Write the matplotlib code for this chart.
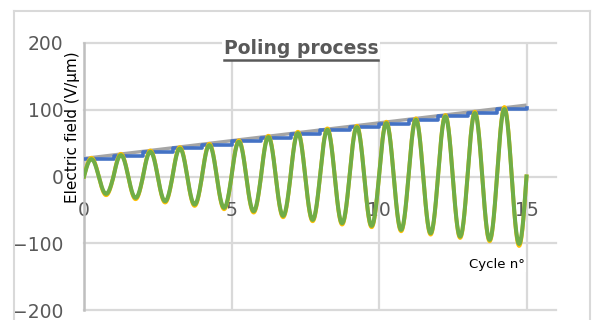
import numpy as np
import matplotlib
matplotlib.use("Agg")
import matplotlib.pyplot as plt
from matplotlib.lines import Line2D

# ---- data ----
cycles = list(range(1, 16))
# peak amplitude of the applied field in each cycle (V/µm)
amplitude = [26, 32, 37, 42, 47, 52, 59, 65, 70, 74, 80, 85, 90, 95, 101]
# orange/yellow series: slightly larger amplitude, visible at the tips
amplitude_yellow = [28, 34, 39, 44, 49, 54, 61, 67, 72, 76, 82, 87, 92, 97, 104]
# stepped level per cycle (blue)
step_level = [26, 31, 37, 42, 47, 53, 58, 63, 69, 74, 79, 85, 90, 95, 101]
# linear ramp (gray) end points
ramp_x = [0, 15]
ramp_y = [27, 107]
xticks = [0, 5, 10, 15]
yticks = [-200, -100, 0, 100, 200]

title = "Poling process"
ylabel = "Electric field (V/µm)"
xlabel = "Cycle n°"

W, H = 595, 320
fig = plt.figure(figsize=(W / 100, H / 100), dpi=100)
fig.patch.set_facecolor("white")

# outer chart-area border
fc = "#D9D9D9"
fig.add_artist(Line2D([14 / W, 14 / W], [0, 1 - 11 / H], color=fc, lw=1.5, transform=fig.transFigure))
fig.add_artist(Line2D([14 / W, 590 / W], [1 - 11 / H, 1 - 11 / H], color=fc, lw=1.5, transform=fig.transFigure))
fig.add_artist(Line2D([590 / W, 590 / W], [0, 1 - 11 / H], color=fc, lw=1.5, transform=fig.transFigure))

left, right, top, bottom = 84, 556, 43, 310
ax = fig.add_axes([left / W, 1 - bottom / H, (right - left) / W, (bottom - top) / H])
ax.set_xlim(0, 16)
ax.set_ylim(-200, 200)

# gridlines
for yv in yticks:
    if yv != 0:
        ax.axhline(yv, color=fc, lw=1.6, zorder=0, clip_on=False)
ax.set_xticks(xticks)
ax.set_yticks(yticks)
ax.grid(axis="x", color=fc, lw=1.6, zorder=0)

for s in ["top", "right"]:
    ax.spines[s].set_visible(False)
ax.spines["bottom"].set_position(("data", 0))
ax.spines["bottom"].set_color(fc)
ax.spines["bottom"].set_linewidth(1.6)
ax.spines["left"].set_color("#BFBFBF")
ax.spines["left"].set_linewidth(1.8)

ax.tick_params(axis="both", length=0, labelsize=13.5, labelcolor="#595959")
ax.tick_params(axis="y", pad=15)
ax.tick_params(axis="x", pad=18)

# series
x = np.linspace(0, 15, 1501)
idx = np.minimum((x // 1).astype(int), 14)
amp = np.array(amplitude)[idx]
amp_y = np.array(amplitude_yellow)[idx]
green = amp * np.sin(2 * np.pi * x)
yellow = amp_y * np.sin(2 * np.pi * x)

ax.plot(ramp_x, ramp_y, color="#A5A5A5", lw=2.4, zorder=2, solid_capstyle="butt")
ax.step(list(range(0, 16)), step_level + [step_level[-1] + 2], where="post",
        color="#4472C4", lw=2.6, zorder=3)
ax.plot(x, yellow, color="#FFC000", lw=2.8, zorder=4)
ax.plot(x, green, color="#70AD47", lw=2.9, zorder=5)

# title (bold, underlined)
t = fig.text(301 / W, 1 - 49 / H, title, ha="center", va="center", fontsize=13.5,
             fontweight="bold", color="#595959", zorder=10,
             bbox=dict(facecolor="white", edgecolor="none", pad=1))
fig.canvas.draw()
bb = t.get_window_extent(renderer=fig.canvas.get_renderer())
uy = (bb.y0 - 1) / H
fig.add_artist(Line2D([bb.x0 / W, bb.x1 / W], [uy, uy], color="#595959", lw=1.8,
                      transform=fig.transFigure, zorder=11))

# y label (inside, between tick labels and axis)
fig.text(72 / W, 1 - 127 / H, ylabel, rotation=90, ha="center", va="center",
         fontsize=11, color="black",
         bbox=dict(facecolor="white", edgecolor="none", pad=0.5))

# x label
ax.text(14.0, -132, xlabel, ha="center", va="center", fontsize=9.5, color="black",
        zorder=10, bbox=dict(facecolor="white", edgecolor="none", pad=0.5))

fig.savefig("out.png", dpi=100)
